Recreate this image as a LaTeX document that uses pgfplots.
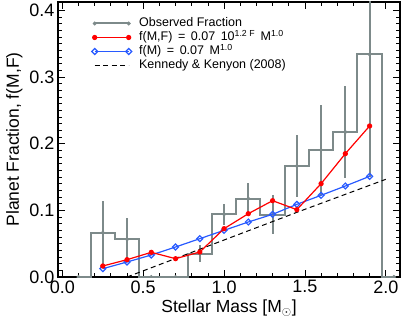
\documentclass[border=0pt]{standalone}
\usepackage{pgfplots}
\pgfplotsset{compat=1.18}
\usepackage{fontspec}
\setmainfont{Liberation Sans}
\definecolor{obsgray}{RGB}{125,138,138}
\definecolor{fblue}{RGB}{40,90,255}
\definecolor{fred}{RGB}{255,0,0}
\begin{document}
\begin{tikzpicture}
\begin{axis}[
  scale only axis, width=342pt, height=275pt,
  xmin=-0.027, xmax=2.088, ymin=0, ymax=0.4125,
  xtick={0,0.5,1.0,1.5,2.0}, ytick={0,0.1,0.2,0.3,0.4},
  minor x tick num=4, minor y tick num=9,
  tick align=inside, major tick length=7pt, minor tick length=4pt,
  every tick/.style={black, line width=0.8pt},
  axis line style={line width=1.3pt},
  /pgf/number format/assume math mode=true,
  xticklabel style={/pgf/number format/.cd, fixed, fixed zerofill, precision=1},
  yticklabel style={/pgf/number format/.cd, fixed, fixed zerofill, precision=1},
  ticklabel style={font=\fontsize{18}{20}\selectfont},
  label style={font=\fontsize{17.5}{20}\selectfont},
  xlabel={Stellar Mass [M\textsubscript{$\odot$}]},
  ylabel={Planet Fraction, f(M,F)},
  clip marker paths=true,
  legend style={at={(0.098,0.948)}, anchor=north west, draw=none, fill=none,
    font=\fontsize{12.5}{13}\selectfont, inner sep=0pt, row sep=0pt,
    nodes={inner sep=1.5pt, text height=8.5pt, text depth=2.5pt},
    /tikz/every odd column/.append style={column sep=6pt}},
  legend cell align=left,
  legend image code/.code={\draw[#1] plot coordinates {(0pt,0pt) (34pt,0pt)};},
]
% histogram
\addplot[obsgray, line width=2pt, const plot mark mid, forget plot] coordinates {
 (0.10,0) (0.25,0.0665) (0.40,0.0565) (0.55,0) (0.70,0) (0.85,0.035) (1.00,0.094)
 (1.15,0.1175) (1.30,0.0935) (1.45,0.1665) (1.60,0.1905) (1.75,0.2175) (1.90,0.334) (2.05,0)};
% points with error bars
\addplot[obsgray, line width=2pt, only marks, mark=*, mark size=1.8pt, mark options={line width=0.5pt}, forget plot,
  error bars/y dir=both, error bars/y explicit, error bars/error mark=none,
  error bars/error bar style={draw=obsgray, line width=2pt, solid}] coordinates {
 (0.10,0) +- (0,0)
 (0.25,0.0665) +- (0,0.047)
 (0.40,0.0565) +- (0,0.032)
 (0.55,0) +- (0,0)
 (0.70,0) +- (0,0)
 (0.85,0.035) +- (0,0.0125)
 (1.00,0.094) +- (0,0.016)
 (1.15,0.1175) +- (0,0.0235)
 (1.30,0.0935) +- (0,0.0295)
 (1.45,0.1665) +- (0,0.046)
 (1.60,0.1905) +- (0,0.067)
 (1.75,0.2175) +- (0,0.0685)
 (1.90,0.334) +- (0,0.184)
 (2.05,0) +- (0,0)};
% Kennedy & Kenyon
\addplot[black, dash pattern=on 5pt off 3.5pt, line width=1pt, forget plot] coordinates {(0.4,0) (1.0,0.0555) (1.45,0.097) (2.0,0.1465)};
% blue
\addplot[fblue, line width=1.2pt, mark=square, mark size=2.1pt, mark options={solid, line width=1.2pt, rotate=45}, forget plot] coordinates {
 (0.25,0.0125) (0.40,0.0225) (0.55,0.033) (0.70,0.045) (0.85,0.0575) (1.00,0.070)
 (1.15,0.0825) (1.30,0.094) (1.45,0.109) (1.60,0.1225) (1.75,0.1365) (1.90,0.151)};
% red
\addplot[fred, line width=1.2pt, mark=*, mark size=2pt, forget plot] coordinates {
 (0.25,0.0165) (0.40,0.026) (0.55,0.037) (0.70,0.0275) (0.85,0.0375) (1.00,0.0725)
 (1.15,0.095) (1.30,0.1145) (1.45,0.101) (1.60,0.140) (1.75,0.185) (1.90,0.2265)};
\addlegendimage{obsgray, line width=2pt, mark=*, mark size=1.8pt, mark options={line width=0.5pt}}
\addlegendentry{Observed Fraction}
\addlegendimage{fred, line width=1.2pt, mark=*, mark size=2pt}
\addlegendentry{f(M,F)\, =\, 0.07\, 10\textsuperscript{1.2 F}\, M\textsuperscript{1.0}}
\addlegendimage{fblue, line width=1.2pt, mark=square, mark size=2.1pt, mark options={rotate=45}}
\addlegendentry{f(M)\, =\, 0.07\, M\textsuperscript{1.0}}
\addlegendimage{black, dash pattern=on 5pt off 3.5pt, line width=1pt}
\addlegendentry{Kennedy \& Kenyon (2008)}
\end{axis}
\pgfresetboundingbox
\path[use as bounding box] ([shift={(-58pt,-47pt)}]current axis.south west) rectangle ([shift={(6pt,2pt)}]current axis.north east);
\end{tikzpicture}
\end{document}
